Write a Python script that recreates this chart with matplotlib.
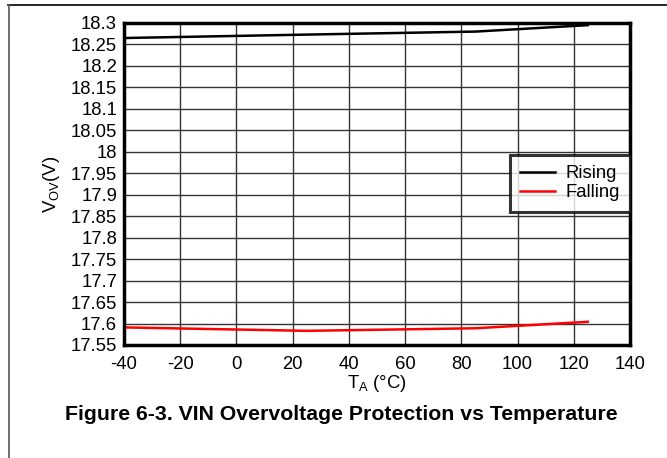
import matplotlib
matplotlib.use("Agg")
import matplotlib.pyplot as plt
from matplotlib.lines import Line2D

plt.rcParams['font.family'] = ['Liberation Sans', 'DejaVu Sans']

# data
temp = [-40, 25, 85, 125]
rising = [18.265, 18.273, 18.280, 18.295]
falling = [17.591, 17.583, 17.589, 17.604]

x_ticks = list(range(-40, 141, 20))
y_ticks = [17.55, 17.6, 17.65, 17.7, 17.75, 17.8, 17.85, 17.9, 17.95,
           18.0, 18.05, 18.1, 18.15, 18.2, 18.25, 18.3]
y_labels = ['17.55', '17.6', '17.65', '17.7', '17.75', '17.8', '17.85', '17.9',
            '17.95', '18', '18.05', '18.1', '18.15', '18.2', '18.25', '18.3']

fig = plt.figure(figsize=(6.67, 4.58), dpi=100)
W, H = 667, 458
ax = fig.add_axes([124 / W, 1 - 345 / H, (630 - 124) / W, (345 - 23) / H])

ax.plot(temp, rising, color='black', lw=1.8, label='Rising')
ax.plot(temp, falling, color='red', lw=1.8, label='Falling')

ax.set_xlim(-40, 140)
ax.set_ylim(17.55, 18.3)
ax.set_xticks(x_ticks)
ax.set_xticklabels([str(v) for v in x_ticks])
ax.set_yticks(y_ticks)
ax.set_yticklabels(y_labels)
ax.tick_params(length=0, labelsize=13.3)
ax.tick_params(axis='x', pad=8)
ax.tick_params(axis='y', pad=5)
ax.grid(True, color='#333333', lw=1.0)
for s in ax.spines.values():
    s.set_linewidth(2.5)

ax.set_xlabel(r'T$_\mathregular{A}$ (°C)', fontsize=13.3, labelpad=0)
ax.set_ylabel(r'V$_\mathregular{OV}$(V)', fontsize=13.3, labelpad=6)

leg = ax.legend(loc='upper right', bbox_to_anchor=(1.0, 0.59), fontsize=13.3,
                frameon=True, fancybox=False, borderpad=0.55, handlelength=1.9,
                handletextpad=0.55, labelspacing=0.12, borderaxespad=0)
leg.get_frame().set_edgecolor('black')
leg.get_frame().set_linewidth(2.2)

fig.text(341 / W, 1 - 414 / H, 'Figure 6-3. VIN Overvoltage Protection vs Temperature',
         ha='center', va='center', fontsize=15.3, fontweight='bold')

# page frame lines
fig.add_artist(Line2D([8 / W, 1], [1 - 5 / H, 1 - 5 / H], color='black', lw=1.2,
                      transform=fig.transFigure))
fig.add_artist(Line2D([9 / W, 9 / W], [0, 1 - 5 / H], color='#555555', lw=1.2,
                      transform=fig.transFigure))

fig.savefig('out.png', dpi=100)
